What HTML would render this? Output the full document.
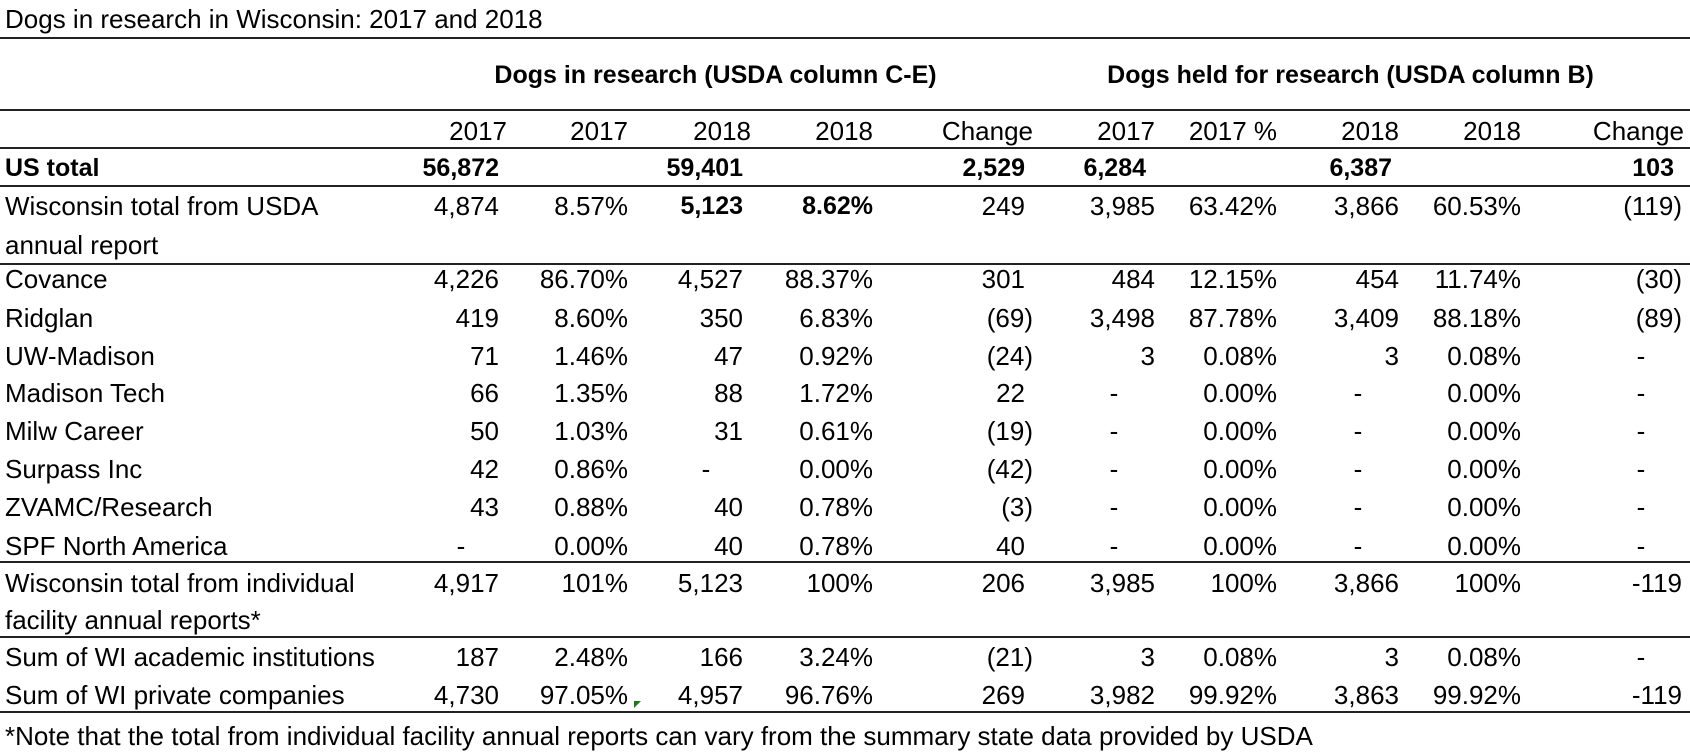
<!DOCTYPE html>
<html><head><meta charset="utf-8"><style>
html,body{margin:0;padding:0;background:#fff;}
body{width:1690px;height:752px;position:relative;overflow:hidden;font-family:"Liberation Sans",Arial,sans-serif;font-size:26px;color:#000;}
div.t{position:absolute;line-height:30px;white-space:nowrap;}
.b{font-weight:bold;font-size:25px;}
.d{width:20px;text-align:center;}
.l{position:absolute;left:0;width:1690px;height:2px;background:#222;}
</style></head><body>
<div class="t" style="left:5px;top:4px">Dogs in research in Wisconsin: 2017 and 2018</div>
<div class="l" style="top:37px"></div>
<div class="t b" style="left:457px;width:517px;text-align:center;top:60px">Dogs in research (USDA column C-E)</div>
<div class="t b" style="left:1071px;width:559px;text-align:center;top:60px">Dogs held for research (USDA column B)</div>
<div class="l" style="top:109px"></div>
<div class="t" style="right:1183px;top:116px">2017</div>
<div class="t" style="right:1062px;top:116px">2017</div>
<div class="t" style="right:939px;top:116px">2018</div>
<div class="t" style="right:817px;top:116px">2018</div>
<div class="t" style="right:657px;top:116px">Change</div>
<div class="t" style="right:535px;top:116px">2017</div>
<div class="t" style="right:413px;top:116px">2017 %</div>
<div class="t" style="right:291px;top:116px">2018</div>
<div class="t" style="right:169px;top:116px">2018</div>
<div class="t" style="right:6px;top:116px">Change</div>
<div class="l" style="top:147px"></div>
<div class="t b" style="left:5px;top:153px">US total</div>
<div class="t b" style="right:1191px;top:153px">56,872</div>
<div class="t b" style="right:947px;top:153px">59,401</div>
<div class="t b" style="right:665px;top:153px">2,529</div>
<div class="t b" style="right:544px;top:153px">6,284</div>
<div class="t b" style="right:298px;top:153px">6,387</div>
<div class="t b" style="right:16px;top:153px">103</div>
<div class="l" style="top:185px"></div>
<div class="t" style="left:5px;top:191px">Wisconsin total from USDA</div>
<div class="t" style="left:5px;top:230px">annual report</div>
<div class="t" style="right:1191px;top:191px">4,874</div>
<div class="t" style="right:1062px;top:191px">8.57%</div>
<div class="t b" style="right:947px;top:191px">5,123</div>
<div class="t b" style="right:817px;top:191px">8.62%</div>
<div class="t" style="right:665px;top:191px">249</div>
<div class="t" style="right:535px;top:191px">3,985</div>
<div class="t" style="right:413px;top:191px">63.42%</div>
<div class="t" style="right:291px;top:191px">3,866</div>
<div class="t" style="right:169px;top:191px">60.53%</div>
<div class="t" style="right:8px;top:191px">(119)</div>
<div class="l" style="top:263px"></div>
<div class="t" style="left:5px;top:264px">Covance</div>
<div class="t" style="right:1191px;top:264px">4,226</div>
<div class="t" style="right:1062px;top:264px">86.70%</div>
<div class="t" style="right:947px;top:264px">4,527</div>
<div class="t" style="right:817px;top:264px">88.37%</div>
<div class="t" style="right:665px;top:264px">301</div>
<div class="t" style="right:535px;top:264px">484</div>
<div class="t" style="right:413px;top:264px">12.15%</div>
<div class="t" style="right:291px;top:264px">454</div>
<div class="t" style="right:169px;top:264px">11.74%</div>
<div class="t" style="right:8px;top:264px">(30)</div>
<div class="t" style="left:5px;top:303px">Ridglan</div>
<div class="t" style="right:1191px;top:303px">419</div>
<div class="t" style="right:1062px;top:303px">8.60%</div>
<div class="t" style="right:947px;top:303px">350</div>
<div class="t" style="right:817px;top:303px">6.83%</div>
<div class="t" style="right:657px;top:303px">(69)</div>
<div class="t" style="right:535px;top:303px">3,498</div>
<div class="t" style="right:413px;top:303px">87.78%</div>
<div class="t" style="right:291px;top:303px">3,409</div>
<div class="t" style="right:169px;top:303px">88.18%</div>
<div class="t" style="right:8px;top:303px">(89)</div>
<div class="t" style="left:5px;top:341px">UW-Madison</div>
<div class="t" style="right:1191px;top:341px">71</div>
<div class="t" style="right:1062px;top:341px">1.46%</div>
<div class="t" style="right:947px;top:341px">47</div>
<div class="t" style="right:817px;top:341px">0.92%</div>
<div class="t" style="right:657px;top:341px">(24)</div>
<div class="t" style="right:535px;top:341px">3</div>
<div class="t" style="right:413px;top:341px">0.08%</div>
<div class="t" style="right:291px;top:341px">3</div>
<div class="t" style="right:169px;top:341px">0.08%</div>
<div class="t d" style="left:1631px;top:341px">-</div>
<div class="t" style="left:5px;top:378px">Madison Tech</div>
<div class="t" style="right:1191px;top:378px">66</div>
<div class="t" style="right:1062px;top:378px">1.35%</div>
<div class="t" style="right:947px;top:378px">88</div>
<div class="t" style="right:817px;top:378px">1.72%</div>
<div class="t" style="right:665px;top:378px">22</div>
<div class="t d" style="left:1104px;top:378px">-</div>
<div class="t" style="right:413px;top:378px">0.00%</div>
<div class="t d" style="left:1348px;top:378px">-</div>
<div class="t" style="right:169px;top:378px">0.00%</div>
<div class="t d" style="left:1631px;top:378px">-</div>
<div class="t" style="left:5px;top:416px">Milw Career</div>
<div class="t" style="right:1191px;top:416px">50</div>
<div class="t" style="right:1062px;top:416px">1.03%</div>
<div class="t" style="right:947px;top:416px">31</div>
<div class="t" style="right:817px;top:416px">0.61%</div>
<div class="t" style="right:657px;top:416px">(19)</div>
<div class="t d" style="left:1104px;top:416px">-</div>
<div class="t" style="right:413px;top:416px">0.00%</div>
<div class="t d" style="left:1348px;top:416px">-</div>
<div class="t" style="right:169px;top:416px">0.00%</div>
<div class="t d" style="left:1631px;top:416px">-</div>
<div class="t" style="left:5px;top:454px">Surpass Inc</div>
<div class="t" style="right:1191px;top:454px">42</div>
<div class="t" style="right:1062px;top:454px">0.86%</div>
<div class="t d" style="left:696px;top:454px">-</div>
<div class="t" style="right:817px;top:454px">0.00%</div>
<div class="t" style="right:657px;top:454px">(42)</div>
<div class="t d" style="left:1104px;top:454px">-</div>
<div class="t" style="right:413px;top:454px">0.00%</div>
<div class="t d" style="left:1348px;top:454px">-</div>
<div class="t" style="right:169px;top:454px">0.00%</div>
<div class="t d" style="left:1631px;top:454px">-</div>
<div class="t" style="left:5px;top:492px">ZVAMC/Research</div>
<div class="t" style="right:1191px;top:492px">43</div>
<div class="t" style="right:1062px;top:492px">0.88%</div>
<div class="t" style="right:947px;top:492px">40</div>
<div class="t" style="right:817px;top:492px">0.78%</div>
<div class="t" style="right:657px;top:492px">(3)</div>
<div class="t d" style="left:1104px;top:492px">-</div>
<div class="t" style="right:413px;top:492px">0.00%</div>
<div class="t d" style="left:1348px;top:492px">-</div>
<div class="t" style="right:169px;top:492px">0.00%</div>
<div class="t d" style="left:1631px;top:492px">-</div>
<div class="t" style="left:5px;top:531px">SPF North America</div>
<div class="t d" style="left:451px;top:531px">-</div>
<div class="t" style="right:1062px;top:531px">0.00%</div>
<div class="t" style="right:947px;top:531px">40</div>
<div class="t" style="right:817px;top:531px">0.78%</div>
<div class="t" style="right:665px;top:531px">40</div>
<div class="t d" style="left:1104px;top:531px">-</div>
<div class="t" style="right:413px;top:531px">0.00%</div>
<div class="t d" style="left:1348px;top:531px">-</div>
<div class="t" style="right:169px;top:531px">0.00%</div>
<div class="t d" style="left:1631px;top:531px">-</div>
<div class="l" style="top:561px"></div>
<div class="t" style="left:5px;top:568px">Wisconsin total from individual</div>
<div class="t" style="left:5px;top:605px">facility annual reports*</div>
<div class="t" style="right:1191px;top:568px">4,917</div>
<div class="t" style="right:1062px;top:568px">101%</div>
<div class="t" style="right:947px;top:568px">5,123</div>
<div class="t" style="right:817px;top:568px">100%</div>
<div class="t" style="right:665px;top:568px">206</div>
<div class="t" style="right:535px;top:568px">3,985</div>
<div class="t" style="right:413px;top:568px">100%</div>
<div class="t" style="right:291px;top:568px">3,866</div>
<div class="t" style="right:169px;top:568px">100%</div>
<div class="t" style="right:8px;top:568px">-119</div>
<div class="l" style="top:636px"></div>
<div class="t" style="left:5px;top:642px">Sum of WI academic institutions</div>
<div class="t" style="right:1191px;top:642px">187</div>
<div class="t" style="right:1062px;top:642px">2.48%</div>
<div class="t" style="right:947px;top:642px">166</div>
<div class="t" style="right:817px;top:642px">3.24%</div>
<div class="t" style="right:657px;top:642px">(21)</div>
<div class="t" style="right:535px;top:642px">3</div>
<div class="t" style="right:413px;top:642px">0.08%</div>
<div class="t" style="right:291px;top:642px">3</div>
<div class="t" style="right:169px;top:642px">0.08%</div>
<div class="t d" style="left:1631px;top:642px">-</div>
<div class="t" style="left:5px;top:680px">Sum of WI private companies</div>
<div class="t" style="right:1191px;top:680px">4,730</div>
<div class="t" style="right:1062px;top:680px">97.05%</div>
<div class="t" style="right:947px;top:680px">4,957</div>
<div class="t" style="right:817px;top:680px">96.76%</div>
<div class="t" style="right:665px;top:680px">269</div>
<div class="t" style="right:535px;top:680px">3,982</div>
<div class="t" style="right:413px;top:680px">99.92%</div>
<div class="t" style="right:291px;top:680px">3,863</div>
<div class="t" style="right:169px;top:680px">99.92%</div>
<div class="t" style="right:8px;top:680px">-119</div>
<svg style="position:absolute;left:634px;top:701px" width="8" height="8"><polygon points="0,0 7,0 0,7" fill="#1a7a1a"/></svg>
<div class="l" style="top:711px"></div>
<div class="t" style="left:5px;top:721px">*Note that the total from individual facility annual reports can vary from the summary state data provided by USDA</div>
</body></html>
